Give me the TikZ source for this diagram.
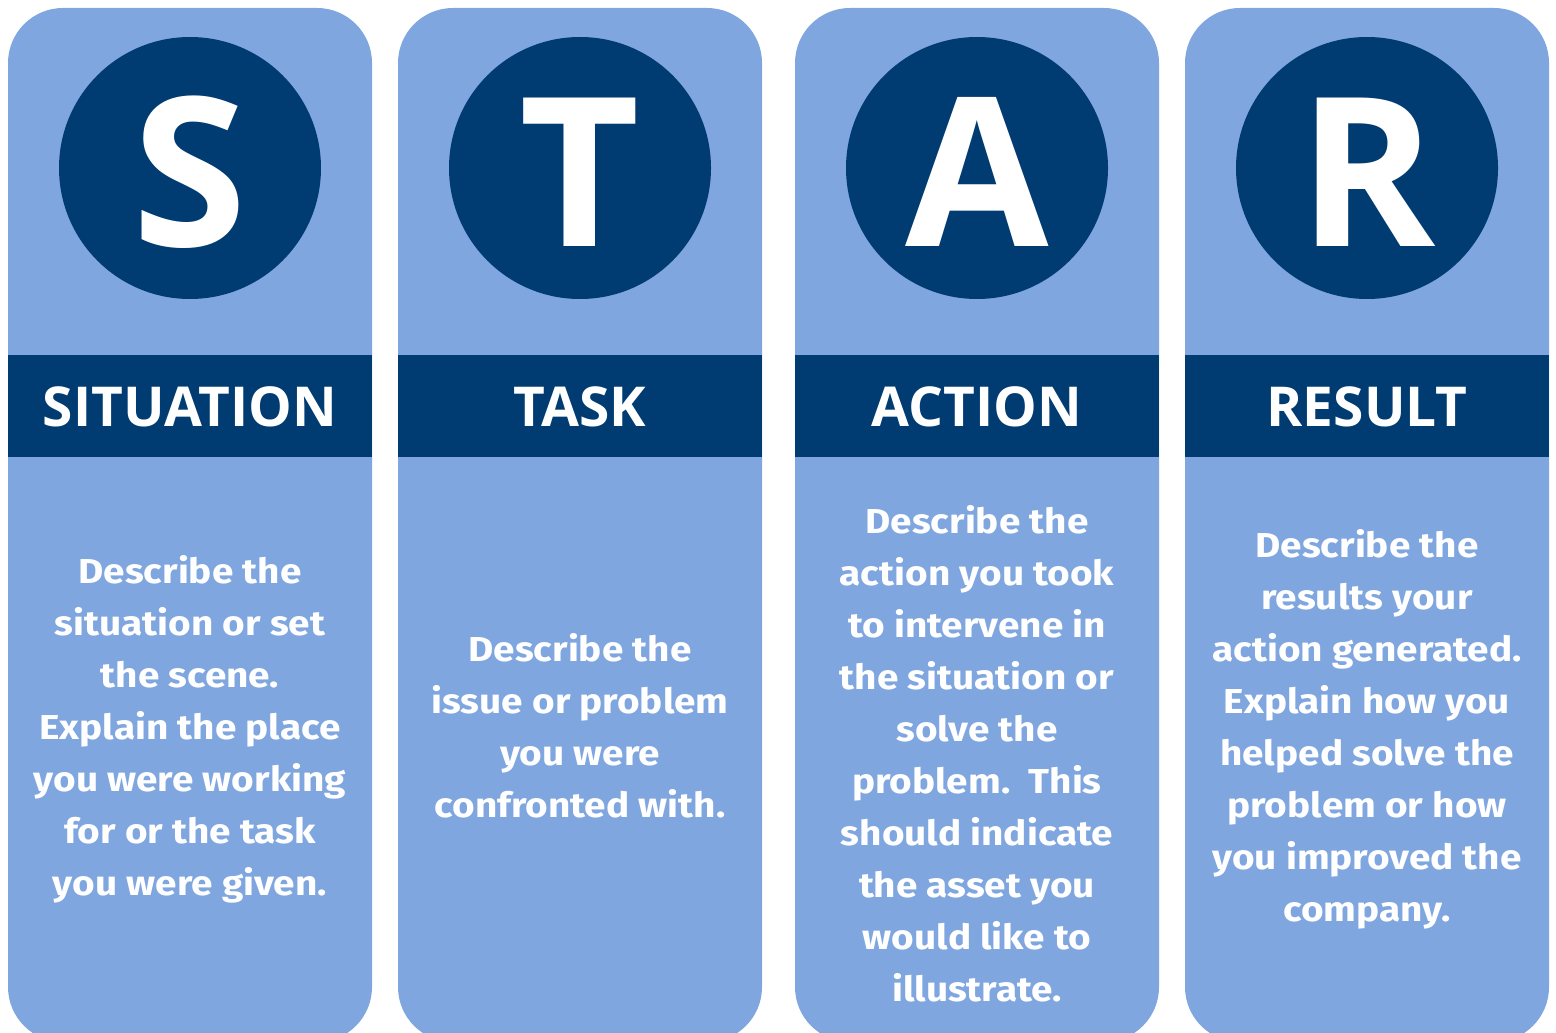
\documentclass[tikz,border=0pt]{standalone}
\usepackage{fontspec}
\usepackage{tikz}
\newfontfamily\headfont{Open Sans}
\newfontfamily\bodyfont{Fira Sans}[FakeStretch=1.12]
\definecolor{starlight}{HTML}{7FA6DF}
\definecolor{stardark}{HTML}{003B71}

\begin{document}
\begin{tikzpicture}[
        x=0.5pt, y=-0.5pt,
        column/.style={fill=starlight, rounded corners=27.5pt, minimum width=182pt, minimum height=517pt, inner sep=0pt},
        badge/.style={circle, fill=stardark, minimum size=131pt, inner sep=0pt},
        letter/.style={text=white, inner sep=0pt, font=\headfont\bfseries\fontsize{104}{104}\selectfont},
        band/.style={fill=stardark, minimum width=182pt, minimum height=51pt, inner sep=0pt, text height=35.5pt, text depth=15.5pt, text=white, font=\headfont\bfseries\fontsize{27.5}{27.5}\selectfont},
        blurb/.style={anchor=south, inner sep=0pt, text depth=0pt, text=white, align=center, font=\bodyfont\bfseries\fontsize{17.3}{26}\selectfont}
    ]
        \useasboundingbox (0,0) rectangle (1556,1032);
        \begin{scope}
        \clip (0,0) rectangle (1556,1032);

        % situation
        \node[column] (colS) at (190,525) {};
        \node[badge] (circS) at (190,168) {};
        \node[letter, anchor=base] (letS) at (190,246) {S};
        \node[band] (headS) at (190,406) {SITUATION};
        \node[blurb] (textS) at (190,896) {Describe the\\situation or set\\the scene.\\Explain the place\\you were working\\for or the task\\you were given.};

        % task
        \node[column] (colT) at (580,525) {};
        \node[badge] (circT) at (580,168) {};
        \node[letter, anchor=base] (letT) at (580,246) {T};
        \node[band] (headT) at (580,406) {TASK};
        \node[blurb] (textT) at (580,818) {Describe the\\issue or problem\\you were\\confronted with.};

        % action
        \node[column] (colA) at (977,525) {};
        \node[badge] (circA) at (977,168) {};
        \node[letter, anchor=base] (letA) at (977,246) {A};
        \node[band] (headA) at (977,406) {ACTION};
        \node[blurb] (textA) at (977,1002) {Describe the\\action you took\\to intervene in\\the situation or\\solve the\\problem.\ \ This\\should indicate\\the asset you\\would like to\\illustrate.};

        % result
        \node[column] (colR) at (1367,525) {};
        \node[badge] (circR) at (1367,168) {};
        \node[letter, anchor=base] (letR) at (1367,246) {R};
        \node[band] (headR) at (1367,406) {RESULT};
        \node[blurb] (textR) at (1367,922) {Describe the\\results your\\action generated.\\Explain how you\\helped solve the\\problem or how\\you improved the\\company.};
        \end{scope}
    \end{tikzpicture}
\end{document}
